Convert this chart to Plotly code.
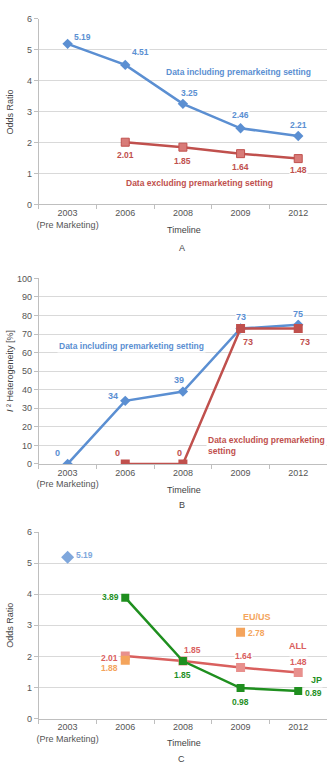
import plotly.graph_objects as go

categories = ["2003<br>(Pre Marketing)", "2006", "2008", "2009", "2012"]

# Panel A: odds ratio
a_including = [5.19, 4.51, 3.25, 2.46, 2.21]
a_excluding = [None, 2.01, 1.85, 1.64, 1.48]

# Panel B: I^2 heterogeneity
b_including = [0, 34, 39, 73, 75]
b_excluding = [None, 0, 0, 73, 73]

# Panel C
c_premarket = [5.19, None, None, None, None]
c_all = [None, 2.01, 1.85, 1.64, 1.48]
c_jp = [None, 3.89, 1.85, 0.98, 0.89]
c_euus = [None, 1.88, None, 2.78, None]

BLUE = "#5b8fd2"
RED = "#c0504d"
PINK_LINE = "#d9605e"
PINK_MK = "#e8908d"
GREEN = "#1f8f1f"
ORANGE = "#f4a45c"
FONT = "Liberation Sans, Arial, sans-serif"

H = 768.0
def py(px):
    return 1 - px / H

fig = go.Figure()

# --- Panel A
fig.add_trace(go.Scatter(x=categories, y=a_including, mode="lines+markers", xaxis="x", yaxis="y",
                         line=dict(color=BLUE, width=2.5), marker=dict(symbol="diamond", size=8, color=BLUE)))
fig.add_trace(go.Scatter(x=categories, y=a_excluding, mode="lines+markers", xaxis="x", yaxis="y",
                         line=dict(color=RED, width=2.5), marker=dict(symbol="square", size=8, color="#d87b78",
                                                                       line=dict(color=RED, width=1))))
# --- Panel B
fig.add_trace(go.Scatter(x=categories, y=b_including, mode="lines+markers", xaxis="x2", yaxis="y2",
                         line=dict(color=BLUE, width=2.5), marker=dict(symbol="diamond", size=8, color=BLUE)))
fig.add_trace(go.Scatter(x=categories, y=b_excluding, mode="lines+markers", xaxis="x2", yaxis="y2",
                         line=dict(color=RED, width=2.5), marker=dict(symbol="square", size=9, color=RED)))
# --- Panel C
fig.add_trace(go.Scatter(x=categories, y=c_premarket, mode="markers", xaxis="x3", yaxis="y3",
                         marker=dict(symbol="diamond", size=10, color="#7fa7dc")))
fig.add_trace(go.Scatter(x=categories, y=c_all, mode="lines+markers", xaxis="x3", yaxis="y3",
                         line=dict(color=PINK_LINE, width=2.5), marker=dict(symbol="square", size=9, color=PINK_MK)))
fig.add_trace(go.Scatter(x=categories, y=c_jp, mode="lines+markers", xaxis="x3", yaxis="y3",
                         line=dict(color=GREEN, width=2.5), marker=dict(symbol="square", size=8, color=GREEN)))
fig.add_trace(go.Scatter(x=categories, y=c_euus, mode="markers", xaxis="x3", yaxis="y3",
                         marker=dict(symbol="square", size=9, color=ORANGE)))

xdom = [37 / 335, 327 / 335]
def xax(anchor):
    return dict(domain=xdom, anchor=anchor, type="category", categoryorder="array", categoryarray=categories,
                range=[-0.5, 4.5], tickson="boundaries", ticks="outside", ticklen=4, tickcolor="#bfbfbf",
                tickangle=0, showline=True, linecolor="#bfbfbf", linewidth=1, showgrid=False, zeroline=False,
                tickfont=dict(family=FONT, size=9, color="#555555"))
def yax(anchor, top, bottom, rng, dtick):
    return dict(domain=[py(bottom), py(top)], anchor=anchor, range=rng, dtick=dtick, ticks="outside", ticklen=4,
                tickcolor="#bfbfbf", showline=True, linecolor="#bfbfbf", linewidth=1, showgrid=True,
                gridcolor="#d9d9d9", gridwidth=1, zeroline=False,
                tickfont=dict(family=FONT, size=9, color="#555555"))

fig.update_layout(
    width=335, height=768, margin=dict(l=0, r=0, t=0, b=0),
    paper_bgcolor="white", plot_bgcolor="white", showlegend=False,
    font=dict(family=FONT),
    xaxis=xax("y"), yaxis=yax("x", 14, 202, [0, 6], 1),
    xaxis2=xax("y2"), yaxis2=yax("x2", 277, 465, [0, 100], 10),
    xaxis3=xax("y3"), yaxis3=yax("x3", 534, 723, [0, 6], 1),
)

ann = []
def lab(xr, yr, x, y, text, color, xs=0, ys=0, size=8.5, bg=True):
    ann.append(dict(xref=xr, yref=yr, x=x, y=y, text="<b>%s</b>" % text, showarrow=False, xshift=xs, yshift=ys,
                    xanchor="center", yanchor="middle",
                    font=dict(family=FONT, size=size, color=color), bgcolor="white" if bg else None, borderpad=0))

# Panel A labels
offs_a_inc = [(15, 7), (15, 13), (7, 11), (0, 13), (0, 11)]
for i, v in enumerate(a_including):
    lab("x", "y", i, v, "%.2f" % v, BLUE, *offs_a_inc[i])
offs_a_exc = [None, (0, -13), (0, -14), (0, -13), (0, -11)]
for i, v in enumerate(a_excluding):
    if v is not None:
        lab("x", "y", i, v, "%.2f" % v, RED, *offs_a_exc[i])
lab("x", "y", 2.97, 4.27, "Data including premarkeitng setting", BLUE)
lab("x", "y", 2.29, 0.70, "Data excluding premarketing setting", RED)

# Panel B labels
offs_b_inc = [(-10, 11), (-12, 5), (-4, 12), (0, 11), (0, 11)]
for i, v in enumerate(b_including):
    lab("x2", "y2", i, v, "%d" % v, BLUE, *offs_b_inc[i], size=9)
offs_b_exc = [None, (-8, 11), (-3, 11), (7, -14), (7, -14)]
for i, v in enumerate(b_excluding):
    if v is not None:
        lab("x2", "y2", i, v, "%d" % v, RED, *offs_b_exc[i], size=9)
ann.append(dict(xref="x2", yref="y2", x=-0.19, y=63.3, xanchor="left", yanchor="middle", showarrow=False,
                text="<b>Data including premarketing setting</b>", bgcolor="white",
                font=dict(family=FONT, size=8.5, color=BLUE)))
ann.append(dict(xref="x2", yref="y2", x=2.40, y=10.1, xanchor="left", yanchor="middle", align="left",
                showarrow=False, text="<b>Data excluding premarketing<br>setting</b>", bgcolor="white",
                font=dict(family=FONT, size=8.5, color=RED)))

# Panel C labels
lab("x3", "y3", 0, c_premarket[0], "5.19", "#7fa7dc", 17, 2)
offs_c_jp = [None, (-15, 1), (0, -14), (0, -14), (15, -2)]
for i, v in enumerate(c_jp):
    if v is not None:
        lab("x3", "y3", i, v, "%.2f" % v, GREEN, *offs_c_jp[i])
offs_c_all = [None, (-16, -2), (10, 11), (3, 12), (0, 11)]
for i, v in enumerate(c_all):
    if v is not None:
        lab("x3", "y3", i, v, "%.2f" % v, PINK_LINE, *offs_c_all[i])
offs_c_eu = [None, (-16, -8), None, (16, -1), None]
for i, v in enumerate(c_euus):
    if v is not None:
        lab("x3", "y3", i, v, "%.2f" % v, ORANGE, *offs_c_eu[i], bg=False)
lab("x3", "y3", 4.31, 1.24, "JP", GREEN, size=9)
lab("x3", "y3", 4.0, 2.32, "ALL", PINK_LINE, size=9)
lab("x3", "y3", 3.29, 3.27, "EU/US", ORANGE, size=9)

# Axis titles and panel letters (paper coords)
def ptext(xpx, ypx, text, size=9, angle=0, color="#444444"):
    ann.append(dict(xref="paper", yref="paper", x=xpx / 335, y=py(ypx), text=text, showarrow=False,
                    xanchor="center", yanchor="middle",
                    textangle=angle, font=dict(family=FONT, size=size, color=color)))

for ypx in (228, 491, 748):
    ptext(183, ypx, "Timeline")
ptext(181, 246, "A")
ptext(181, 507, "B")
ptext(181, 764, "C")
ptext(8, 108, "Odds Ratio", angle=-90)
ptext(8, 371, "<i>I</i> ² Heterogeneity [%]", angle=-90)
ptext(8, 628, "Odds Ratio", angle=-90)

fig.update_layout(annotations=ann)
fig.write_html("out.html")
